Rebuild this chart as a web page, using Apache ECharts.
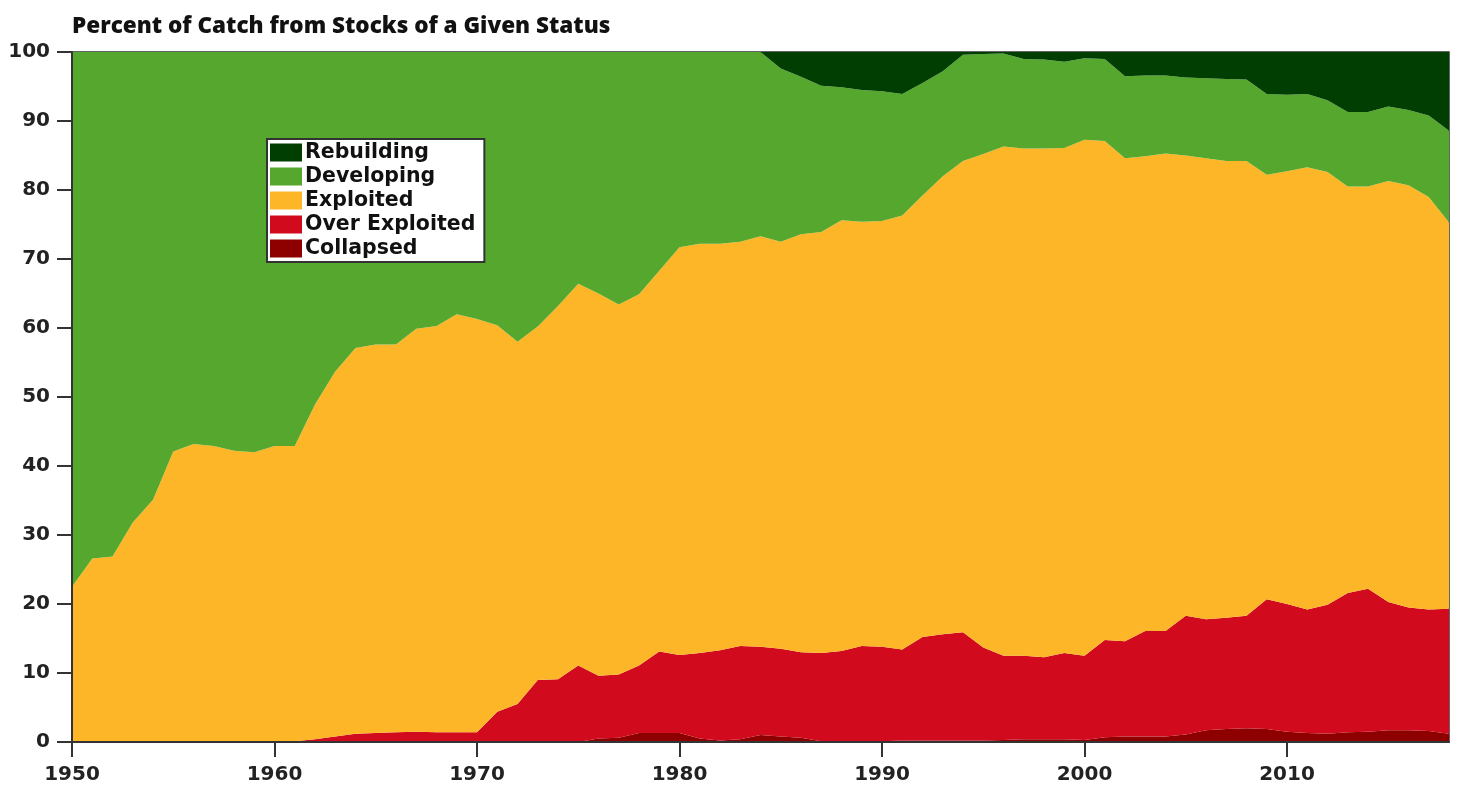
<!DOCTYPE html>
<html>
<head>
<meta charset="utf-8">
<script src="https://cdn.jsdelivr.net/npm/echarts@6/dist/echarts.min.js"></script>
<style>
  html, body { margin: 0; padding: 0; background: #fff; }
  #chart { width: 1457px; height: 785px; }
</style>
</head>
<body>
<div id="chart"></div>
<script>
// Share of global catch (%) by stock status, 1950–2018
const years = [];
for (let y = 1950; y <= 2018; y++) years.push(String(y));

const collapsed = [
  0, 0, 0, 0, 0, 0, 0, 0, 0, 0,
  0, 0, 0, 0, 0, 0, 0, 0, 0, 0,
  0, 0, 0, 0, 0, 0, 0.5, 0.6, 1.3, 1.3,
  1.3, 0.5, 0.2, 0.4, 1.0, 0.8, 0.6, 0.1, 0.1, 0.1,
  0.1, 0.2, 0.2, 0.2, 0.2, 0.2, 0.3, 0.4, 0.4, 0.4,
  0.3, 0.7, 0.8, 0.8, 0.8, 1.1, 1.7, 1.9, 2.0, 1.9,
  1.5, 1.3, 1.2, 1.4, 1.5, 1.7, 1.7, 1.6, 1.2
];

const overExploited = [
  0, 0, 0, 0, 0, 0, 0, 0, 0, 0,
  0, 0.1, 0.4, 0.8, 1.2, 1.3, 1.4, 1.5, 1.4, 1.4,
  1.4, 4.4, 5.5, 9.0, 9.1, 11.1, 9.1, 9.2, 9.8, 11.8,
  11.3, 12.4, 13.1, 13.5, 12.8, 12.7, 12.4, 12.8, 13.1, 13.8,
  13.7, 13.2, 15.0, 15.4, 15.7, 13.5, 12.2, 12.1, 11.9, 12.5,
  12.2, 14.1, 13.8, 15.3, 15.3, 17.2, 16.1, 16.1, 16.3, 18.8,
  18.5, 17.9, 18.7, 20.2, 20.7, 18.6, 17.8, 17.6, 18.1
];

const exploited = [
  22.5, 26.6, 26.9, 31.8, 35.1, 42.1, 43.2, 42.9, 42.2, 42.0,
  42.9, 42.8, 48.5, 52.9, 55.9, 56.3, 56.2, 58.4, 58.9, 60.6,
  59.9, 56.0, 52.5, 51.2, 54.1, 55.3, 55.4, 53.6, 53.8, 55.2,
  59.1, 59.3, 58.9, 58.6, 59.5, 59.0, 60.6, 61.0, 62.4, 61.5,
  61.7, 62.9, 64.0, 66.4, 68.3, 71.5, 73.8, 73.5, 73.7, 73.2,
  74.8, 72.3, 70.0, 68.8, 69.2, 66.7, 66.8, 66.2, 65.9, 61.5,
  62.7, 64.1, 62.7, 58.9, 58.3, 61.0, 61.2, 59.8, 56.0
];

const developing = [
  77.5, 73.4, 73.1, 68.2, 64.9, 57.9, 56.8, 57.1, 57.8, 58.0,
  57.1, 57.1, 51.1, 46.3, 42.9, 42.4, 42.4, 40.1, 39.7, 38.0,
  38.7, 39.6, 42.0, 39.8, 36.8, 33.6, 35.0, 36.6, 35.1, 31.7,
  28.3, 27.8, 27.8, 27.5, 26.7, 25.1, 22.8, 21.2, 19.3, 19.1,
  18.8, 17.6, 16.3, 15.2, 15.4, 14.5, 13.5, 13.0, 12.9, 12.5,
  11.8, 11.9, 11.9, 11.7, 11.3, 11.3, 11.6, 11.9, 11.8, 11.7,
  11.1, 10.6, 10.4, 10.8, 10.8, 10.8, 10.9, 11.8, 13.3
];

const rebuilding = [
  0, 0, 0, 0, 0, 0, 0, 0, 0, 0,
  0, 0, 0, 0, 0, 0, 0, 0, 0, 0,
  0, 0, 0, 0, 0, 0, 0, 0, 0, 0,
  0, 0, 0, 0, 0, 2.4, 3.6, 4.9, 5.1, 5.5,
  5.7, 6.1, 4.5, 2.8, 0.4, 0.3, 0.2, 1.0, 1.1, 1.4,
  0.9, 1.0, 3.5, 3.4, 3.4, 3.7, 3.8, 3.9, 4.0, 6.1,
  6.2, 6.1, 7.0, 8.7, 8.7, 7.9, 8.4, 9.2, 11.4
];

// Bottom-to-top stacking order
const layers = [
  { name: 'Collapsed', values: collapsed, color: '#8e0000' },
  { name: 'Over Exploited', values: overExploited, color: '#d10a1e' },
  { name: 'Exploited', values: exploited, color: '#fdb628' },
  { name: 'Developing', values: developing, color: '#56a72d' },
  { name: 'Rebuilding', values: rebuilding, color: '#013e02' }
];

const TITLE_FONT = '"Open Sans", Lato, sans-serif';
const FONT = '"DejaVu Sans", "Open Sans", sans-serif';

const chart = echarts.init(document.getElementById('chart'), null, { renderer: 'canvas' });

chart.setOption({
  animation: false,
  backgroundColor: '#ffffff',
  title: {
    text: 'Percent of Catch from Stocks of a Given Status',
    left: 67,
    top: 10,
    textStyle: { fontFamily: TITLE_FONT, fontSize: 22.5, fontWeight: 800, color: '#111' }
  },
  legend: {
    orient: 'vertical',
    left: 267,
    top: 139,
    padding: [3, 9, 3, 3],
    itemWidth: 32,
    itemHeight: 18,
    itemGap: 3,
    icon: 'rect',
    backgroundColor: '#ffffff',
    borderColor: '#333',
    borderWidth: 2,
    data: ['Rebuilding', 'Developing', 'Exploited', 'Over Exploited', 'Collapsed'],
    textStyle: {
      fontFamily: FONT, fontSize: 20.5, fontWeight: 'bold', color: '#111',
      lineHeight: 19, padding: [0, 0, 0, -2]
    }
  },
  grid: {
    left: 72,
    right: 8,
    top: 52,
    bottom: 42,
    show: true,
    borderColor: '#333',
    borderWidth: 1.5
  },
  xAxis: {
    type: 'category',
    data: years,
    boundaryGap: false,
    z: 10,
    axisLine: { show: true, lineStyle: { color: '#333', width: 2 } },
    axisTick: { show: true, interval: 9, length: 15, lineStyle: { color: '#333', width: 2 } },
    splitLine: { show: false },
    axisLabel: {
      interval: 9,
      fontFamily: FONT, fontSize: 20, fontWeight: 'bold', color: '#222', margin: 23
    }
  },
  yAxis: {
    type: 'value',
    min: 0,
    max: 100,
    interval: 10,
    z: 10,
    axisLine: { show: true, lineStyle: { color: '#333', width: 2 } },
    axisTick: { show: true, length: 15, lineStyle: { color: '#333', width: 2 } },
    splitLine: { show: false },
    axisLabel: {
      fontFamily: FONT, fontSize: 20, fontWeight: 'bold', color: '#222', margin: 22
    }
  },
  series: layers.map(l => ({
    name: l.name,
    type: 'line',
    stack: 'catch',
    symbol: 'none',
    showSymbol: false,
    lineStyle: { width: 0 },
    itemStyle: { color: l.color },
    areaStyle: { color: l.color, opacity: 1 },
    data: l.values
  }))
});
</script>
</body>
</html>
